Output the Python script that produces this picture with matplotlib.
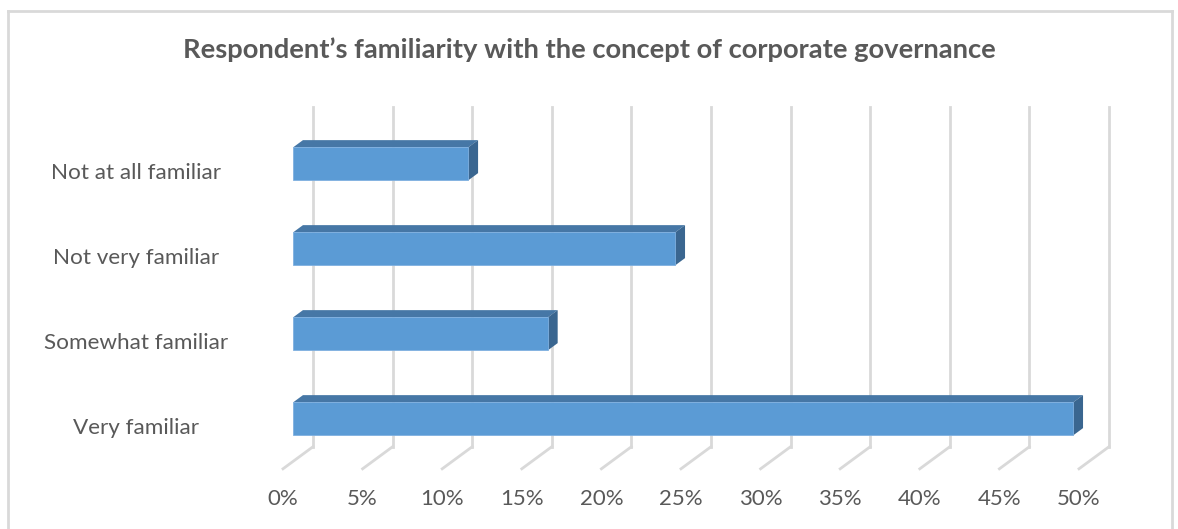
import matplotlib
matplotlib.use("Agg")
import matplotlib.pyplot as plt
from matplotlib.patches import Polygon
from matplotlib.lines import Line2D

plt.rcParams['font.family'] = ['Lato', 'DejaVu Sans']

title = "Respondent\u2019s familiarity with the concept of corporate governance"
categories = ["Very familiar", "Somewhat familiar", "Not very familiar", "Not at all familiar"]
values = [49, 16, 24, 11]
ticks = [0, 5, 10, 15, 20, 25, 30, 35, 40, 45, 50]
tick_labels = ["0%", "5%", "10%", "15%", "20%", "25%", "30%", "35%", "40%", "45%", "50%"]

text_col = '#595959'
grid_col = '#d9d9d9'
front_col = '#5b9bd5'
top_col = '#4677a6'
side_col = '#3a6690'

# oblique depth vector (full depth of the plot box) in data units
DX, DY = 1.88, 0.259
bar_h = 0.388

W, H = 1178, 529
fig = plt.figure(figsize=(W / 100, H / 100), dpi=100)

# axes placed so that x=0% sits at px 283 and 5% steps are ~79.6 px
x0px, kx = 283, 15.92
y0px, ky = 426.3, 85
xlim = (-1.5, 55)
ylim = (-0.6, 4.0)
left = (x0px + kx * xlim[0]) / W
width = kx * (xlim[1] - xlim[0]) / W
bottom = (H - (y0px - ky * ylim[0])) / H
height = ky * (ylim[1] - ylim[0]) / H
ax = fig.add_axes([left, bottom, width, height])
ax.set_xlim(*xlim)
ax.set_ylim(*ylim)
ax.axis('off')

y_floor = -0.5
y_top = len(categories) - 0.5

# back wall gridlines and floor lines
for t, lab in zip(ticks, tick_labels):
    ax.plot([t + DX, t + DX], [y_floor + DY, y_top + DY], color=grid_col, lw=2, zorder=1)
    ax.plot([t, t + DX], [y_floor, y_floor + DY], color=grid_col, lw=2, zorder=1)
    ax.text(t, y_floor - 0.36, lab, ha='center', va='center', fontsize=16,
            color=text_col, clip_on=False)

# 3D bars occupy depth 1/3 .. 2/3
d1x, d1y = DX / 3, DY / 3
d2x, d2y = 2 * DX / 3, 2 * DY / 3
for i, (cat, v) in enumerate(zip(categories, values)):
    yb = i - bar_h / 2 + d1y
    yt = i + bar_h / 2 + d1y
    xa = d1x
    xb = v + d1x
    ddx, ddy = d2x - d1x, d2y - d1y
    top = Polygon([(xa, yt), (xb, yt), (xb + ddx, yt + ddy), (xa + ddx, yt + ddy)],
                  closed=True, facecolor=top_col, edgecolor='none', zorder=3)
    side = Polygon([(xb, yb), (xb + ddx, yb + ddy), (xb + ddx, yt + ddy), (xb, yt)],
                   closed=True, facecolor=side_col, edgecolor='none', zorder=3)
    front = Polygon([(xa, yb), (xb, yb), (xb, yt), (xa, yt)],
                    closed=True, facecolor=front_col, edgecolor='#7fb0e0', lw=0.6, zorder=4)
    ax.add_patch(top)
    ax.add_patch(side)
    ax.add_patch(front)
    ax.text(-9.25, i - 0.02, cat, ha='center', va='center', fontsize=16.2, color=text_col,
            clip_on=False)

fig.text(0.5, 1 - 50 / H, title, ha='center', va='center', fontsize=19.7,
         fontweight='bold', color=text_col)

# chart area border (left, top, right)
bx0, by0, bx1 = 8 / W, 1 - 11 / H, 1172 / W
fig.add_artist(Line2D([bx0, bx0], [0, by0], color=grid_col, lw=2))
fig.add_artist(Line2D([bx0, bx1], [by0, by0], color=grid_col, lw=2))
fig.add_artist(Line2D([bx1, bx1], [0, by0], color=grid_col, lw=2))

fig.savefig('out.png', dpi=100)
